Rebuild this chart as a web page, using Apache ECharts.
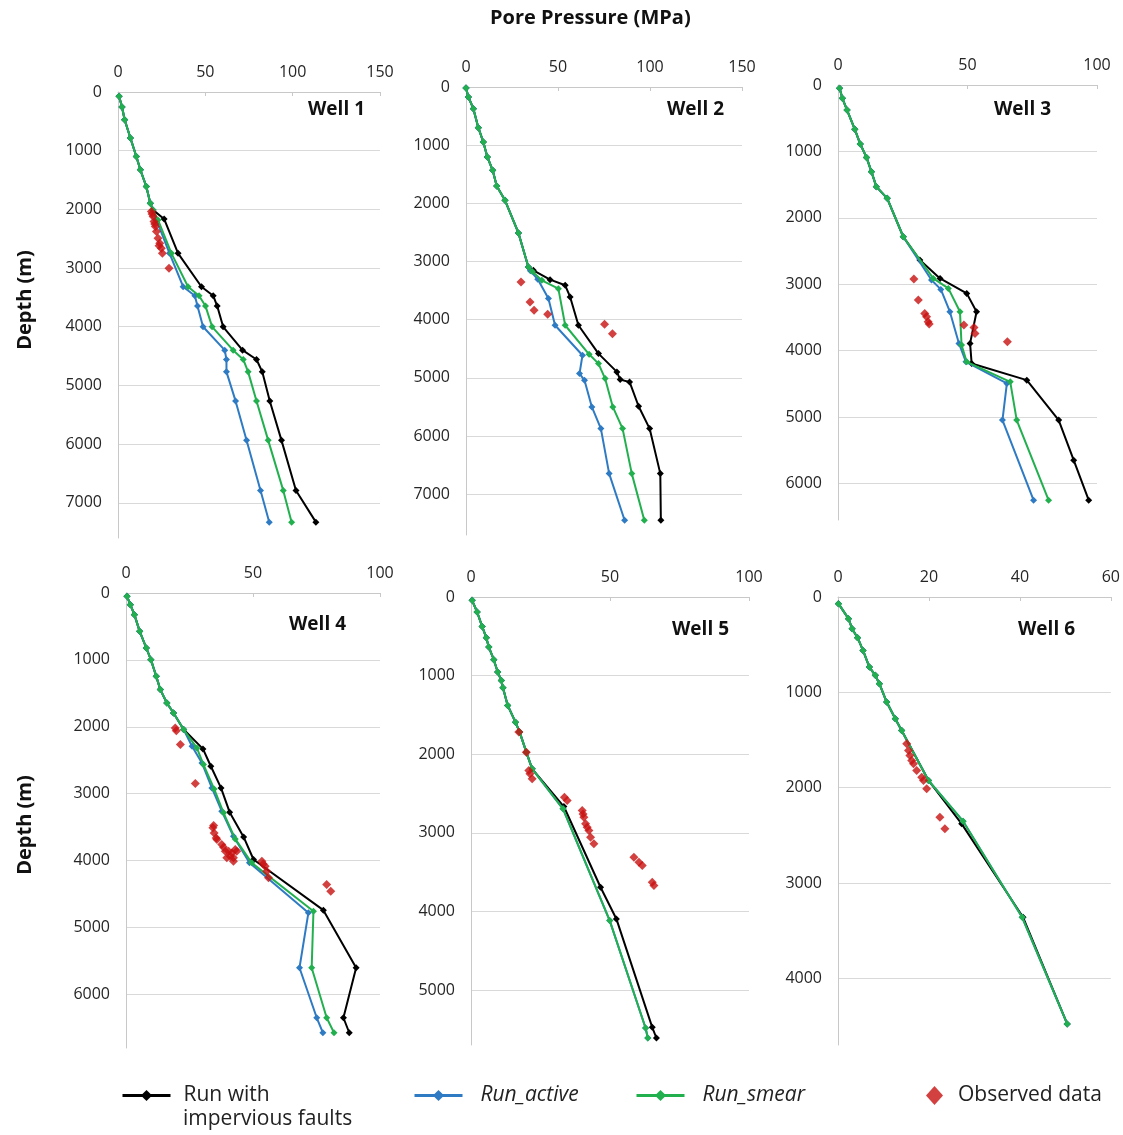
<!DOCTYPE html>
<html><head><meta charset="utf-8">
<script src="https://cdn.jsdelivr.net/npm/echarts@6/dist/echarts.min.js"></script>
<style>html,body{margin:0;padding:0;background:#fff}#c{width:1123px;height:1135px}</style>
</head><body><div id="c"></div>
<script>
// ---- Data: [pore pressure (MPa), depth (m)] ----
const wellNames = ['Well 1','Well 2','Well 3','Well 4','Well 5','Well 6'];
const seriesNames = ['Run with impervious faults','Run_active','Run_smear','Observed data'];
const xMaxTicks = [150,150,100,100,100,60];
const xIntervals = [50,50,50,50,50,20];

const w1_impervious = [[0.6,74],[2.3,256],[3.8,472],[7.1,785],[10.5,1098],[12.8,1326],[16.2,1610],[18.5,1895],[20,2009],[26.4,2163],[34.4,2749],[47.8,3318],[54.5,3471],[56.8,3648],[60.2,4001],[71.3,4399],[79.3,4558],[82.6,4769],[86.9,5264],[93.6,5936],[101.9,6789],[113.3,7330]];
const w1_active = [[0.6,74],[2.3,256],[3.8,472],[7.1,785],[10.5,1098],[12.8,1326],[16.2,1610],[18.5,1895],[20,2009],[22.0,2180],[29.5,2749],[37.3,3318],[44.0,3471],[45.5,3648],[48.7,4001],[61.1,4399],[62.1,4558],[62.1,4769],[67.3,5264],[73.6,5936],[81.6,6789],[86.6,7330]];
const w1_smear = [[0.6,74],[2.3,256],[3.8,472],[7.1,785],[10.5,1098],[12.8,1326],[16.2,1610],[18.5,1895],[20,2009],[22.9,2180],[30.6,2749],[40.1,3318],[46.4,3471],[50.1,3648],[53.9,4001],[65.9,4399],[71.7,4558],[74.5,4769],[79.3,5264],[86.0,5936],[94.6,6789],[99.4,7330]];
const w1_observed = [[19.1,2037],[19.5,2080],[20.1,2123],[20.6,2208],[21.0,2250],[21.4,2294],[22.0,2379],[22.9,2493],[23.9,2578],[23.5,2620],[24.8,2663],[25.4,2749],[29.2,3005]];

const w2_impervious = [[0,17],[1.3,172],[4.0,372],[6.7,699],[9.4,945],[11.6,1203],[14.5,1432],[16.7,1701],[21.2,1948],[28.5,2509],[33.9,3093],[36.6,3150],[45.7,3311],[53.9,3408],[56.6,3609],[61.1,4095],[72.0,4582],[82.0,4897],[83.8,5029],[88.9,5069],[93.8,5487],[99.8,5871],[105.6,6645],[105.9,7446]];
const w2_active = [[0,17],[1.3,172],[4.0,372],[6.7,699],[9.4,945],[11.6,1203],[14.5,1432],[16.7,1701],[21.2,1948],[28.5,2509],[33.9,3093],[35.0,3160],[39.0,3305],[44.8,3637],[48.4,4095],[63.3,4611],[61.7,4926],[64.4,5041],[68.4,5499],[73.3,5871],[77.8,6645],[86.2,7446]];
const w2_smear = [[0,17],[1.3,172],[4.0,372],[6.7,699],[9.4,945],[11.6,1203],[14.5,1432],[16.7,1701],[21.2,1948],[28.5,2509],[33.9,3093],[36.0,3170],[41.2,3322],[50.2,3466],[53.9,4095],[66.9,4594],[72.0,4754],[75.6,5012],[79.8,5499],[85.1,5871],[90.1,6645],[96.9,7446]];
const w2_observed = [[29.9,3351],[34.8,3694],[37.0,3838],[44.4,3906],[75.3,4078],[79.6,4239]];

const w3_impervious = [[0.6,50],[1.7,201],[3.5,377],[6.5,668],[8.6,889],[11.0,1090],[12.9,1305],[14.8,1531],[19.0,1707],[25.2,2285],[31.6,2636],[39.4,2912],[49.7,3138],[53.5,3414],[51.0,3891],[51.6,4193],[72.9,4444],[85.2,5046],[91.0,5649],[96.8,6251]];
const w3_active = [[0.6,50],[1.7,201],[3.5,377],[6.5,668],[8.6,889],[11.0,1090],[12.9,1305],[14.8,1531],[19.0,1707],[25.2,2285],[36.1,2937],[39.7,3078],[43.2,3414],[46.7,3891],[49.4,4168],[65.2,4494],[63.5,5046],[75.5,6251]];
const w3_smear = [[0.6,50],[1.7,201],[3.5,377],[6.5,668],[8.6,889],[11.0,1090],[12.9,1305],[14.8,1531],[19.0,1707],[25.2,2285],[36.8,2912],[42.6,3063],[47.1,3414],[47.7,3916],[49.7,4168],[66.5,4469],[69.0,5046],[81.3,6251]];
const w3_observed = [[29.3,2922],[31.0,3238],[33.5,3439],[34.2,3490],[34.8,3565],[35.2,3600],[48.6,3615],[52.5,3650],[52.9,3741],[65.4,3866]];

const w4_impervious = [[0.4,50],[1.7,174],[3.3,324],[5.4,573],[8.0,822],[9.8,996],[11.9,1245],[13.5,1444],[16.1,1643],[18.7,1792],[22.7,2041],[30.3,2330],[33.4,2589],[37.4,2913],[40.8,3276],[46.3,3645],[50.2,3983],[77.7,4740],[90.6,5601],[85.6,6348],[87.9,6572]];
const w4_active = [[0.4,50],[1.7,174],[3.3,324],[5.4,573],[8.0,822],[9.8,996],[11.9,1245],[13.5,1444],[16.1,1643],[18.7,1792],[22.7,2041],[26.0,2290],[29.9,2539],[33.8,2913],[37.7,3261],[42.3,3635],[48.6,4033],[71.8,4780],[68.3,5601],[75.1,6348],[77.5,6572]];
const w4_smear = [[0.4,50],[1.7,174],[3.3,324],[5.4,573],[8.0,822],[9.8,996],[11.9,1245],[13.5,1444],[16.1,1643],[18.7,1792],[22.7,2041],[27.9,2315],[30.5,2564],[34.7,2928],[38.4,3286],[43.0,3675],[49.5,4033],[73.8,4755],[73.1,5601],[79.0,6348],[81.9,6572]];
const w4_observed = [[19.4,2016],[19.8,2060],[21.4,2265],[27.3,2848],[34.5,3475],[34.2,3510],[34.7,3585],[35.5,3660],[35.8,3685],[37.7,3759],[38.4,3800],[39.1,3859],[39.7,3958],[40.4,3859],[41.0,3934],[41.7,3884],[42.3,3958],[42.3,4008],[43.0,3834],[43.6,3859],[53.5,4008],[54.0,4050],[54.8,4083],[55.4,4158],[56.1,4257],[79.0,4357],[80.6,4456]];

const w5_impervious = [[0.4,42],[2.2,191],[4.0,374],[5.5,518],[6.4,637],[8.2,798],[9.6,955],[10.9,1061],[11.5,1155],[13.2,1379],[16.0,1592],[17.5,1719],[19.9,1974],[22.0,2186],[33.4,2666],[46.6,3693],[52.3,4096],[65.2,5475],[66.7,5611]];
const w5_active = [[0.4,42],[2.2,191],[4.0,374],[5.5,518],[6.4,637],[8.2,798],[9.6,955],[10.9,1061],[11.5,1155],[13.2,1379],[16.0,1592],[17.5,1719],[19.9,1974],[22.0,2186],[33.1,2695],[49.9,4117],[62.8,5484],[63.6,5611]];
const w5_smear = [[0.4,42],[2.2,191],[4.0,374],[5.5,518],[6.4,637],[8.2,798],[9.6,955],[10.9,1061],[11.5,1155],[13.2,1379],[16.0,1592],[17.5,1719],[19.9,1974],[22.0,2186],[33.1,2695],[49.9,4117],[62.8,5484],[63.6,5611]];
const w5_observed = [[17.2,1719],[19.9,1974],[20.8,2207],[21.2,2250],[22.0,2313],[33.6,2547],[34.6,2589],[40.0,2716],[40.3,2760],[40.6,2801],[41.2,2886],[41.8,2930],[42.4,2971],[43.0,3056],[44.2,3141],[58.6,3311],[60.4,3374],[61.6,3417],[65.2,3629],[65.8,3671]];

const w6_impervious = [[0.1,70],[2.3,227],[3.1,332],[4.3,427],[5.5,560],[6.9,735],[8.2,822],[9.1,910],[10.7,1102],[12.6,1277],[14.0,1400],[19.9,1925],[27.2,2380],[40.7,3360],[50.4,4479]];
const w6_active = [[0.1,70],[2.3,227],[3.1,332],[4.3,427],[5.5,560],[6.9,735],[8.2,822],[9.1,910],[10.7,1102],[12.6,1277],[14.0,1400],[19.9,1925],[27.5,2352],[40.5,3360],[50.4,4479]];
const w6_smear = [[0.1,70],[2.3,227],[3.1,332],[4.3,427],[5.5,560],[6.9,735],[8.2,822],[9.1,910],[10.7,1102],[12.6,1277],[14.0,1400],[19.9,1925],[27.5,2352],[40.5,3360],[50.4,4479]];
const w6_observed = [[15.1,1540],[15.5,1610],[15.8,1662],[16.2,1715],[16.6,1750],[17.3,1820],[18.4,1890],[18.8,1925],[19.5,2012],[22.4,2310],[23.5,2432]];

const wells = [
  [w1_impervious,w1_active,w1_smear,w1_observed],
  [w2_impervious,w2_active,w2_smear,w2_observed],
  [w3_impervious,w3_active,w3_smear,w3_observed],
  [w4_impervious,w4_active,w4_smear,w4_observed],
  [w5_impervious,w5_active,w5_smear,w5_observed],
  [w6_impervious,w6_active,w6_smear,w6_observed]
];

// ---- Layout ----
const layout = [
  {left:118, top:92,  width:262, height:446, ymax:7600, label:[337,112]},
  {left:466, top:87,  width:276, height:448, ymax:7700, label:[696,112]},
  {left:838, top:85,  width:259, height:435, ymax:6550, label:[1023,112]},
  {left:126, top:593, width:254, height:455, ymax:6800, label:[318,627]},
  {left:471, top:597, width:278, height:448, ymax:5700, label:[701,632]},
  {left:838, top:597, width:274, height:448, ymax:4700, label:[1047,632]}
];
const colors = ['#000000','#2e7bc4','#22b04f','#c81010'];
const FONT = 'Open Sans';

const grid=[], xAxis=[], yAxis=[], series=[], graphic=[];
layout.forEach((L,i)=>{
  grid.push({left:L.left, top:L.top, width:L.width, height:L.height, containLabel:false});
  xAxis.push({gridIndex:i, type:'value', position:'top', min:0, max:xMaxTicks[i], interval:xIntervals[i],
    axisLine:{show:true, lineStyle:{color:'#c8c8c8', width:1}},
    axisTick:{show:true, inside:true, length:4, lineStyle:{color:'#c8c8c8'}},
    splitLine:{show:false},
    axisLabel:{color:'#262626', fontSize:16, fontFamily:FONT, margin:12}});
  yAxis.push({gridIndex:i, type:'value', inverse:true, min:0, max:L.ymax, interval:1000,
    axisLine:{show:true, lineStyle:{color:'#c8c8c8', width:1}},
    axisTick:{show:false},
    splitLine:{show:true, showMinLine:false, showMaxLine:false, lineStyle:{color:'#d9d9d9', width:1}},
    axisLabel:{color:'#262626', fontSize:16, fontFamily:FONT, margin:16,
      formatter:v=> (v%1000===0 ? String(v) : '')}});
  wells[i].forEach((d,k)=>{
    if(k<3){
      series.push({name:seriesNames[k], type:'line', xAxisIndex:i, yAxisIndex:i, data:d,
        symbol:'diamond', symbolSize:7, showSymbol:true, animation:false,
        lineStyle:{color:colors[k], width:2}, itemStyle:{color:colors[k]}, z:2+k});
    } else {
      series.push({name:seriesNames[k], type:'scatter', xAxisIndex:i, yAxisIndex:i, data:d,
        symbol:'diamond', symbolSize:9, animation:false, itemStyle:{color:colors[k]}, z:6});
    }
  });
  graphic.push({type:'text', left:L.label[0]-29, top:L.label[1]-12,
    style:{text:wellNames[i], font:'bold 19px "'+FONT+'"', fill:'#111'}});
});

graphic.push({type:'text', left:490, top:8, style:{text:'Pore Pressure (MPa)', font:'bold 20px "'+FONT+'"', fill:'#111'}});
graphic.push({type:'text', position:[25,300], rotation:Math.PI/2,
  style:{text:'Depth (m)', font:'bold 20px "'+FONT+'"', fill:'#111', align:'center', verticalAlign:'middle'}});
graphic.push({type:'text', position:[25,825], rotation:Math.PI/2,
  style:{text:'Depth (m)', font:'bold 20px "'+FONT+'"', fill:'#111', align:'center', verticalAlign:'middle'}});
graphic.push({type:'text', left:183, top:1109, style:{text:'impervious faults', font:'21px "'+FONT+'"', fill:'#222'}});

const legTxt = {fontSize:21, fontFamily:FONT, color:'#222', padding:[0,0,0,13]};
const legend = [
  {data:[seriesNames[0]], left:116, top:1080, itemWidth:48, itemHeight:14, lineStyle:{width:3}, formatter:()=> 'Run with', textStyle:Object.assign({},legTxt,{padding:[0,0,0,8]})},
  {data:[seriesNames[1]], left:408, top:1080, itemWidth:48, itemHeight:14, lineStyle:{width:3}, textStyle:Object.assign({},legTxt,{fontStyle:'italic'})},
  {data:[seriesNames[2]], left:630, top:1080, itemWidth:48, itemHeight:14, lineStyle:{width:3}, textStyle:Object.assign({},legTxt,{fontStyle:'italic'})},
  {data:[seriesNames[3]], left:921, top:1080, itemWidth:17, itemHeight:19, textStyle:Object.assign({},legTxt,{padding:[0,0,0,10]})}
];

const chart = echarts.init(document.getElementById('c'), null, {renderer:'canvas'});
chart.setOption({animation:false, backgroundColor:'#fff', grid, xAxis, yAxis, series, legend, graphic});
</script></body></html>
